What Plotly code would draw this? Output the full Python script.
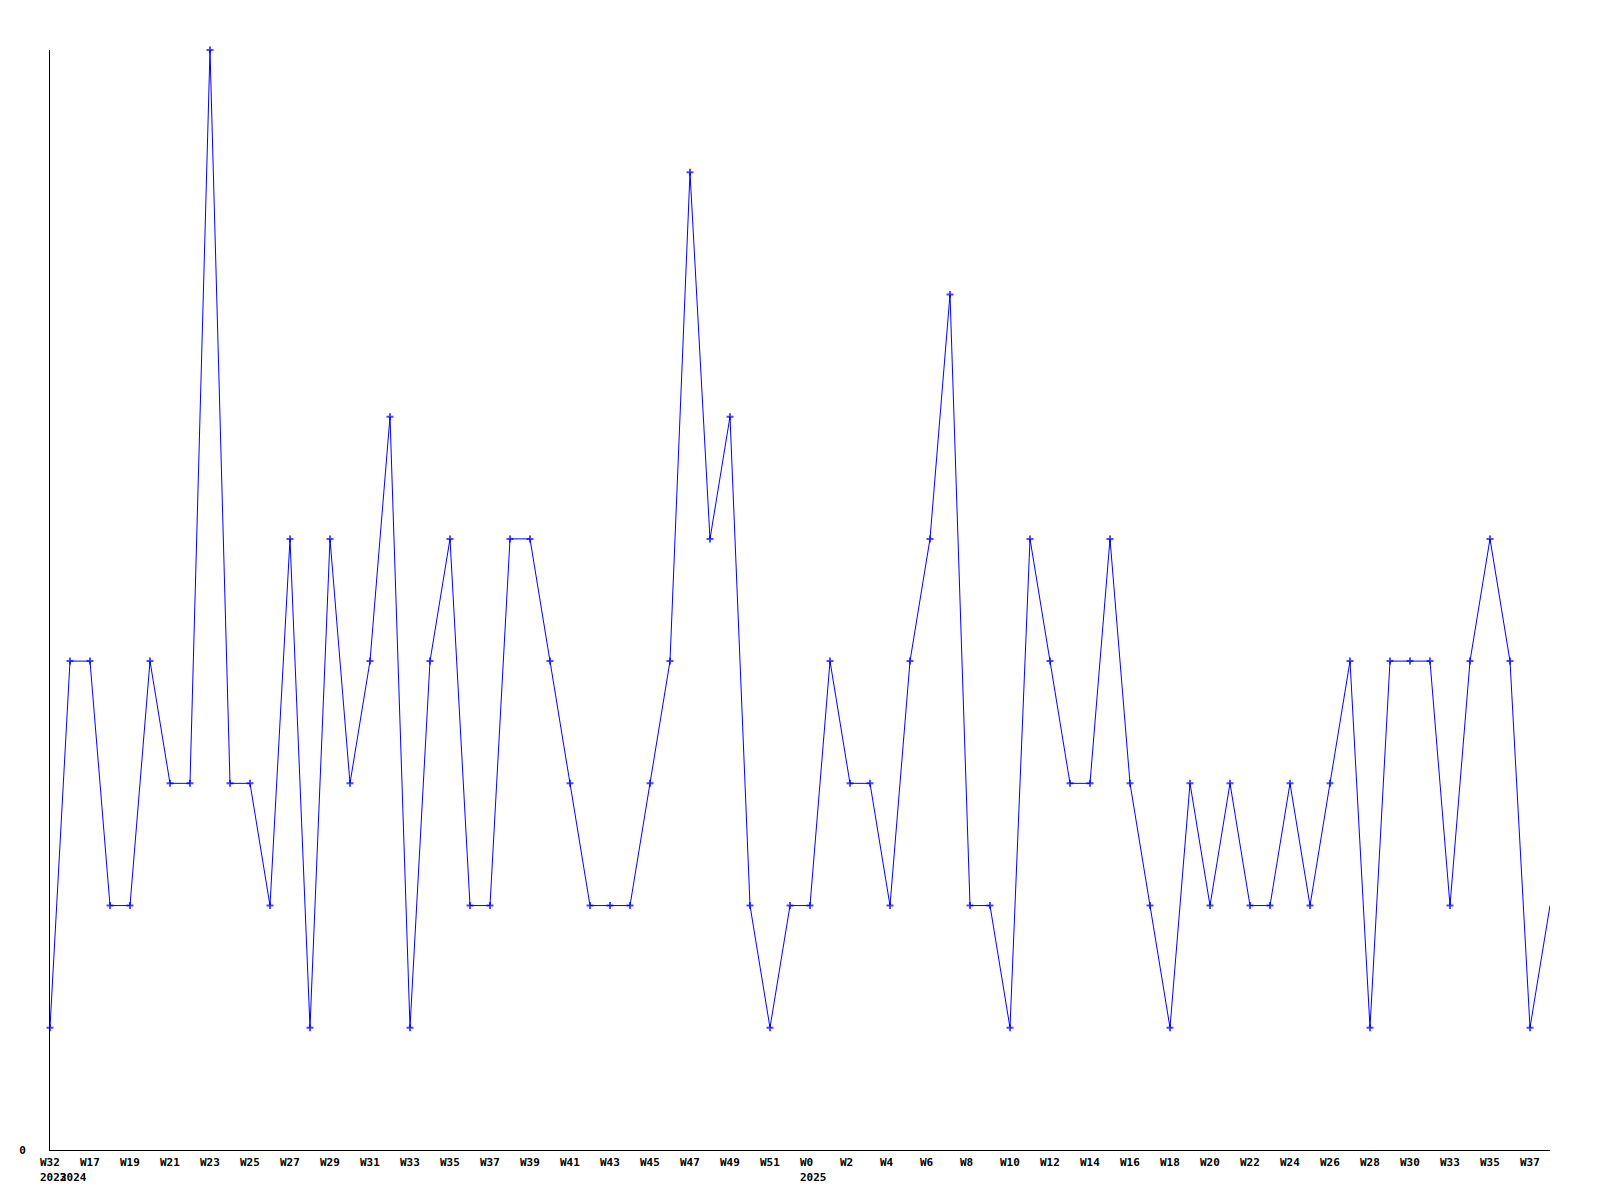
import plotly.graph_objects as go

values = [1, 4, 4, 2, 2, 4, 3, 3, 9, 3, 3, 2, 5, 1, 5, 3, 4, 6, 1, 4,
          5, 2, 2, 5, 5, 4, 3, 2, 2, 2, 3, 4, 8, 5, 6, 2, 1, 2, 2, 4,
          3, 3, 2, 4, 5, 7, 2, 2, 1, 5, 4, 3, 3, 5, 3, 2, 1, 3, 2, 3,
          2, 2, 3, 2, 3, 4, 1, 4, 4, 4, 2, 4, 5, 4, 1, 2]

tick_idx = list(range(0, 76, 2))
tick_labels = ["W32", "W17", "W19", "W21", "W23", "W25", "W27", "W29", "W31", "W33",
               "W35", "W37", "W39", "W41", "W43", "W45", "W47", "W49", "W51", "W0",
               "W2", "W4", "W6", "W8", "W10", "W12", "W14", "W16", "W18", "W20",
               "W22", "W24", "W26", "W28", "W30", "W33", "W35", "W37"]

year_idx = [0, 1, 38]
year_labels = ["2023", "2024", "2025"]

x = list(range(len(values)))
sizes = [5] * (len(values) - 1) + [0]

font_family = "DejaVu Sans Mono"
label_font = dict(family=font_family, size=11, color="black", weight="bold")

fig = go.Figure()
fig.add_trace(go.Scatter(
    x=x, y=values, mode="lines+markers",
    line=dict(color="#0000ff", width=1),
    marker=dict(symbol="cross-thin", size=sizes, color="#0000ff",
                line=dict(color="#0000ff", width=2)),
    cliponaxis=False, showlegend=False, hoverinfo="skip",
))

# x labels are left-aligned, starting 10px left of their tick position
annotations = []
for i, t in zip(tick_idx, tick_labels):
    annotations.append(dict(
        x=i, y=0, xref="x", yref="paper", text=t, showarrow=False,
        xanchor="left", yanchor="middle", xshift=-10, yshift=-12,
        borderpad=0, borderwidth=0, font=label_font,
    ))
for i, t in zip(year_idx, year_labels):
    annotations.append(dict(
        x=i, y=0, xref="x", yref="paper", text=t, showarrow=False,
        xanchor="left", yanchor="middle", xshift=-10, yshift=-27,
        borderpad=0, borderwidth=0, font=label_font,
    ))

# The page body has an 8px default margin, so the figure is sized to fit.
fig.update_layout(
    width=1584, height=1184,
    margin=dict(l=42, r=42, t=42, b=42, autoexpand=False),
    paper_bgcolor="white", plot_bgcolor="white",
    annotations=annotations,
    xaxis=dict(
        range=[0, 75], showgrid=False, zeroline=False, automargin=False,
        showline=True, linecolor="black", linewidth=1,
        showticklabels=False, ticks="",
    ),
    yaxis=dict(
        range=[0, 9], showgrid=False, zeroline=False, automargin=False,
        showline=True, linecolor="black", linewidth=1,
        tickmode="array", tickvals=[0], ticktext=["0"], ticks="",
        ticklabelstandoff=21,
        tickfont=label_font,
    ),
)

fig.write_html("out.html")
